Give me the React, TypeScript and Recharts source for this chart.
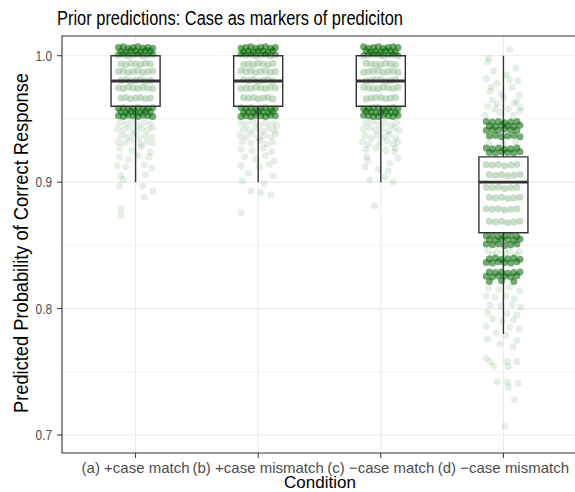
import { ComposedChart, Scatter, XAxis, YAxis, CartesianGrid, ReferenceArea } from "recharts";

type Pt = [number, number]; // [horizontal jitter, predicted probability]

const conditions = ["(a) +case match", "(b) +case mismatch", "(c) \u2212case match", "(d) \u2212case mismatch"];
const yTicks = [0.7, 0.8, 0.9, 1.0];
const yMinor = [0.75, 0.85, 0.95];

// boxplot summaries per condition
const boxLow = [0.96, 0.96, 0.96, 0.86];
const boxMid = [0.98, 0.98, 0.98, 0.9];
const boxHigh = [1.0, 1.0, 1.0, 0.92];
const whiskerLow = [0.9, 0.9, 0.9, 0.78];
const whiskerHigh = [1.0, 1.0, 1.0, 1.0];

// jittered draws, dense cores
const aCore: Pt[] = [
  [-0.14, 1.0065], [-0.1, 1.007], [-0.06, 1.006], [-0.02, 1.0065], [0.02, 1.007], [0.06, 1.006], [0.1, 1.0065], [0.14, 1.006],
  [-0.12, 1.0035], [-0.08, 1.003], [-0.04, 1.004], [0.0, 1.0035], [0.04, 1.003], [0.08, 1.004], [0.12, 1.0035],
  [-0.14, 1.0005], [-0.1, 1.001], [-0.06, 1.0], [-0.02, 1.0005], [0.02, 1.001], [0.06, 1.0], [0.1, 1.0005], [0.14, 1.001],
  [-0.12, 0.9935], [-0.08, 0.993], [-0.04, 0.994], [0.0, 0.9935], [0.04, 0.993], [0.08, 0.994], [0.12, 0.9935],
  [-0.14, 0.9875], [-0.1, 0.988], [-0.06, 0.987], [-0.02, 0.9875], [0.02, 0.988], [0.06, 0.987], [0.1, 0.9875], [0.14, 0.988],
  [-0.12, 0.9805], [-0.08, 0.981], [-0.04, 0.98], [0.0, 0.9805], [0.04, 0.981], [0.08, 0.98], [0.12, 0.9805],
  [-0.14, 0.9745], [-0.1, 0.974], [-0.06, 0.975], [-0.02, 0.9745], [0.02, 0.974], [0.06, 0.975], [0.1, 0.9745], [0.14, 0.974],
  [-0.12, 0.9665], [-0.08, 0.967], [-0.04, 0.966], [0.0, 0.9665], [0.04, 0.967], [0.08, 0.966], [0.12, 0.9665],
  [-0.14, 0.9585], [-0.1, 0.959], [-0.06, 0.958], [-0.02, 0.9585], [0.02, 0.959], [0.06, 0.958], [0.1, 0.9585], [0.14, 0.959],
  [-0.12, 0.9555], [-0.08, 0.955], [-0.04, 0.956], [0.0, 0.9555], [0.04, 0.955], [0.08, 0.956], [0.12, 0.9555],
  [-0.14, 0.9525], [-0.1, 0.952], [-0.06, 0.953], [-0.02, 0.9525], [0.02, 0.952], [0.06, 0.953], [0.1, 0.9525], [0.14, 0.952],
];
const bCore: Pt[] = [
  [-0.14, 1.006], [-0.1, 1.0065], [-0.06, 1.007], [-0.02, 1.006], [0.02, 1.0065], [0.06, 1.007], [0.1, 1.006], [0.14, 1.0065],
  [-0.12, 1.003], [-0.08, 1.0035], [-0.04, 1.003], [0.0, 1.004], [0.04, 1.0035], [0.08, 1.003], [0.12, 1.004],
  [-0.14, 1.001], [-0.1, 1.0005], [-0.06, 1.001], [-0.02, 1.0], [0.02, 1.0005], [0.06, 1.001], [0.1, 1.0], [0.14, 1.0005],
  [-0.12, 0.993], [-0.08, 0.9935], [-0.04, 0.993], [0.0, 0.994], [0.04, 0.9935], [0.08, 0.993], [0.12, 0.994],
  [-0.14, 0.988], [-0.1, 0.9875], [-0.06, 0.988], [-0.02, 0.987], [0.02, 0.9875], [0.06, 0.988], [0.1, 0.987], [0.14, 0.9875],
  [-0.12, 0.981], [-0.08, 0.9805], [-0.04, 0.981], [0.0, 0.98], [0.04, 0.9805], [0.08, 0.981], [0.12, 0.98],
  [-0.14, 0.974], [-0.1, 0.9745], [-0.06, 0.974], [-0.02, 0.975], [0.02, 0.9745], [0.06, 0.974], [0.1, 0.975], [0.14, 0.9745],
  [-0.12, 0.967], [-0.08, 0.9665], [-0.04, 0.967], [0.0, 0.966], [0.04, 0.9665], [0.08, 0.967], [0.12, 0.966],
  [-0.14, 0.959], [-0.1, 0.9585], [-0.06, 0.959], [-0.02, 0.958], [0.02, 0.9585], [0.06, 0.959], [0.1, 0.958], [0.14, 0.9585],
  [-0.12, 0.955], [-0.08, 0.9555], [-0.04, 0.955], [0.0, 0.956], [0.04, 0.9555], [0.08, 0.955], [0.12, 0.956],
  [-0.14, 0.952], [-0.1, 0.9525], [-0.06, 0.952], [-0.02, 0.953], [0.02, 0.9525], [0.06, 0.952], [0.1, 0.953], [0.14, 0.9525],
];
const cCore: Pt[] = [
  [-0.14, 1.007], [-0.1, 1.006], [-0.06, 1.0065], [-0.02, 1.007], [0.02, 1.006], [0.06, 1.0065], [0.1, 1.007], [0.14, 1.0065],
  [-0.12, 1.004], [-0.08, 1.003], [-0.04, 1.0035], [0.0, 1.003], [0.04, 1.004], [0.08, 1.0035], [0.12, 1.003],
  [-0.14, 1.0], [-0.1, 1.0005], [-0.06, 1.001], [-0.02, 1.001], [0.02, 1.0], [0.06, 1.0005], [0.1, 1.001], [0.14, 1.0],
  [-0.12, 0.994], [-0.08, 0.9935], [-0.04, 0.993], [0.0, 0.993], [0.04, 0.994], [0.08, 0.9935], [0.12, 0.993],
  [-0.14, 0.987], [-0.1, 0.9875], [-0.06, 0.988], [-0.02, 0.988], [0.02, 0.987], [0.06, 0.9875], [0.1, 0.988], [0.14, 0.987],
  [-0.12, 0.98], [-0.08, 0.9805], [-0.04, 0.981], [0.0, 0.981], [0.04, 0.98], [0.08, 0.9805], [0.12, 0.981],
  [-0.14, 0.975], [-0.1, 0.9745], [-0.06, 0.974], [-0.02, 0.974], [0.02, 0.975], [0.06, 0.9745], [0.1, 0.974], [0.14, 0.975],
  [-0.12, 0.966], [-0.08, 0.9665], [-0.04, 0.967], [0.0, 0.967], [0.04, 0.966], [0.08, 0.9665], [0.12, 0.967],
  [-0.14, 0.958], [-0.1, 0.9585], [-0.06, 0.959], [-0.02, 0.959], [0.02, 0.958], [0.06, 0.9585], [0.1, 0.959], [0.14, 0.958],
  [-0.12, 0.956], [-0.08, 0.9555], [-0.04, 0.955], [0.0, 0.955], [0.04, 0.956], [0.08, 0.9555], [0.12, 0.955],
  [-0.14, 0.953], [-0.1, 0.9525], [-0.06, 0.952], [-0.02, 0.952], [0.02, 0.953], [0.06, 0.9525], [0.1, 0.952], [0.14, 0.953],
];
const dCore: Pt[] = [
  [-0.14, 0.948], [-0.09, 0.9475], [-0.04, 0.948], [0.01, 0.947], [0.06, 0.9475], [0.11, 0.948],
  [-0.115, 0.9445], [-0.065, 0.944], [-0.015, 0.945], [0.035, 0.9445], [0.085, 0.944], [0.135, 0.945],
  [-0.14, 0.941], [-0.09, 0.9415], [-0.04, 0.941], [0.01, 0.942], [0.06, 0.9415], [0.11, 0.941],
  [-0.115, 0.9365], [-0.065, 0.937], [-0.015, 0.936], [0.035, 0.9365], [0.085, 0.937], [0.135, 0.936],
  [-0.14, 0.927], [-0.09, 0.9265], [-0.04, 0.927], [0.01, 0.926], [0.06, 0.9265], [0.11, 0.927],
  [-0.115, 0.9235], [-0.065, 0.923], [-0.015, 0.924], [0.035, 0.9235], [0.085, 0.923], [0.135, 0.924],
  [-0.14, 0.914], [-0.09, 0.9135], [-0.04, 0.914], [0.01, 0.913], [0.06, 0.9135], [0.11, 0.914],
  [-0.115, 0.906], [-0.065, 0.9055], [-0.015, 0.906], [0.035, 0.905], [0.085, 0.9055], [0.135, 0.906],
  [-0.14, 0.896], [-0.09, 0.8955], [-0.04, 0.896], [0.01, 0.895], [0.06, 0.8955], [0.11, 0.896],
  [-0.115, 0.888], [-0.065, 0.8875], [-0.015, 0.888], [0.035, 0.887], [0.085, 0.8875], [0.135, 0.888],
  [-0.14, 0.879], [-0.09, 0.8785], [-0.04, 0.879], [0.01, 0.878], [0.06, 0.8785], [0.11, 0.879],
  [-0.115, 0.869], [-0.065, 0.8685], [-0.015, 0.869], [0.035, 0.868], [0.085, 0.8685], [0.135, 0.869],
  [-0.14, 0.8575], [-0.09, 0.858], [-0.04, 0.857], [0.01, 0.8575], [0.06, 0.858], [0.11, 0.857],
  [-0.115, 0.8545], [-0.065, 0.854], [-0.015, 0.855], [0.035, 0.8545], [0.085, 0.854], [0.135, 0.855],
  [-0.14, 0.851], [-0.09, 0.8505], [-0.04, 0.851], [0.01, 0.85], [0.06, 0.8505], [0.11, 0.851],
  [-0.115, 0.8395], [-0.065, 0.84], [-0.015, 0.839], [0.035, 0.8395], [0.085, 0.84], [0.135, 0.839],
  [-0.14, 0.8365], [-0.09, 0.836], [-0.04, 0.837], [0.01, 0.8365], [0.06, 0.836], [0.11, 0.837],
  [-0.115, 0.829], [-0.065, 0.8285], [-0.015, 0.829], [0.035, 0.828], [0.085, 0.8285], [0.135, 0.829],
  [-0.14, 0.8255], [-0.09, 0.825], [-0.04, 0.826], [0.01, 0.8255], [0.06, 0.825], [0.11, 0.826],
  [-0.115, 0.8215], [-0.015, 0.822], [0.085, 0.8215],
];

// jittered draws, thinner tails
const aTail: Pt[] = [
  [-0.13, 0.947], [-0.08, 0.946], [-0.03, 0.948], [0.02, 0.945], [0.07, 0.947], [0.12, 0.946],
  [-0.15, 0.942], [-0.1, 0.941], [-0.05, 0.943], [0.0, 0.94], [0.05, 0.942], [0.1, 0.941], [0.14, 0.943],
  [-0.12, 0.937], [-0.07, 0.936], [-0.02, 0.938], [0.03, 0.935], [0.08, 0.937], [0.13, 0.936],
  [-0.14, 0.932], [-0.09, 0.931], [-0.04, 0.933], [0.04, 0.93], [0.09, 0.932], [0.14, 0.931],
  [-0.13, 0.927], [-0.03, 0.925], [0.05, 0.928], [0.12, 0.924],
  [-0.13, 0.92], [-0.06, 0.918], [0.02, 0.921], [0.11, 0.92],
  [-0.15, 0.913], [-0.08, 0.912], [0.07, 0.914], [0.13, 0.911],
  [-0.12, 0.905], [0.08, 0.906], [-0.1, 0.902], [-0.13, 0.897], [0.06, 0.897], [0.14, 0.893], [0.07, 0.888],
  [-0.12, 0.879], [-0.12, 0.874],
];
const bTail: Pt[] = [
  [-0.14, 0.947], [-0.09, 0.946], [-0.04, 0.948], [0.01, 0.945], [0.06, 0.947], [0.11, 0.946], [0.15, 0.945],
  [-0.12, 0.942], [-0.07, 0.941], [-0.02, 0.943], [0.03, 0.94], [0.08, 0.942], [0.13, 0.941],
  [-0.15, 0.937], [-0.1, 0.936], [-0.05, 0.938], [0.0, 0.935], [0.05, 0.937], [0.1, 0.936], [0.14, 0.938],
  [-0.13, 0.932], [-0.06, 0.931], [0.02, 0.933], [0.07, 0.93], [0.12, 0.932],
  [-0.14, 0.926], [-0.05, 0.925], [0.04, 0.927], [0.11, 0.924],
  [-0.11, 0.92], [-0.02, 0.918], [0.06, 0.921], [0.13, 0.917],
  [-0.14, 0.913], [0.01, 0.912], [0.09, 0.914],
  [-0.08, 0.907], [0.12, 0.905], [-0.13, 0.901], [0.05, 0.899], [-0.06, 0.893], [0.1, 0.89], [0.02, 0.892],
  [-0.14, 0.876],
];
const cTail: Pt[] = [
  [-0.12, 0.947], [-0.07, 0.948], [-0.02, 0.946], [0.03, 0.947], [0.08, 0.945], [0.13, 0.947],
  [-0.14, 0.942], [-0.09, 0.943], [-0.04, 0.941], [0.01, 0.942], [0.06, 0.94], [0.11, 0.943], [0.15, 0.941],
  [-0.13, 0.937], [-0.08, 0.935], [-0.03, 0.937], [0.02, 0.936], [0.07, 0.938], [0.12, 0.935],
  [-0.15, 0.932], [-0.1, 0.93], [-0.01, 0.931], [0.05, 0.933], [0.1, 0.93], [0.14, 0.932],
  [-0.12, 0.926], [-0.04, 0.927], [0.04, 0.925], [0.12, 0.927],
  [-0.115, 0.92], [-0.105, 0.917], [0.11, 0.924], [0.14, 0.919], [0.075, 0.915],
  [-0.13, 0.912], [-0.02, 0.91], [0.06, 0.909],
  [-0.09, 0.902], [0.035, 0.904], [0.1, 0.9], [-0.05, 0.881],
];
const dTail: Pt[] = [
  [0.05, 1.005], [-0.12, 0.998], [-0.13, 0.995], [0.1, 0.99], [-0.08, 0.988], [0.02, 0.985], [-0.14, 0.982],
  [0.12, 0.98], [-0.05, 0.978], [0.07, 0.975], [-0.11, 0.972], [0.13, 0.969], [0.0, 0.967], [-0.09, 0.965],
  [0.09, 0.962], [-0.13, 0.96], [0.04, 0.958], [0.13, 0.956], [-0.03, 0.955], [-0.15, 0.953], [0.08, 0.953],
  [-0.07, 0.958], [0.11, 0.964], [-0.02, 0.97], [0.05, 0.981], [-0.1, 0.975], [0.14, 0.959], [-0.05, 0.962],
  [-0.12, 0.931], [0.0, 0.931], [0.1, 0.932],
  [-0.13, 0.846], [-0.05, 0.845], [0.05, 0.846], [0.13, 0.845], [-0.09, 0.843], [0.01, 0.844], [0.1, 0.843],
  [-0.12, 0.816], [-0.04, 0.815], [0.05, 0.817], [0.13, 0.814], [-0.14, 0.81], [-0.07, 0.809], [0.02, 0.81], [0.09, 0.808],
  [-0.11, 0.803], [-0.02, 0.802], [0.07, 0.803], [0.14, 0.801], [-0.13, 0.797], [0.03, 0.796], [0.11, 0.795],
  [-0.09, 0.792], [-0.01, 0.79], [0.08, 0.791], [-0.14, 0.786], [0.05, 0.785], [0.13, 0.784], [-0.06, 0.781],
  [0.02, 0.779], [-0.13, 0.776], [0.11, 0.775], [-0.03, 0.772], [0.08, 0.77],
  [-0.14, 0.761], [-0.11, 0.758], [-0.08, 0.755], [0.03, 0.758], [0.04, 0.754], [0.11, 0.758],
  [-0.05, 0.742], [0.03, 0.742], [0.04, 0.738], [0.12, 0.741], [0.09, 0.728], [0.01, 0.707],
];

const toRows = (groups: Pt[][]) =>
  groups.flatMap((pts, i) => pts.map(([dx, y]) => ({ x: i + 1 + dx, y })));

const coreRows = toRows([aCore, bCore, cCore, dCore]);
const tailRows = toRows([aTail, bTail, cTail, dTail]);

const HALF = 0.2; // half box width, in category units
// corners, median ends and whisker ends of each box, as data points
const boxRows = conditions.map((_, i) => {
  const c = i + 1;
  return [
    { x: c - HALF, y: boxLow[i] }, { x: c + HALF, y: boxLow[i] },
    { x: c + HALF, y: boxHigh[i] }, { x: c - HALF, y: boxHigh[i] },
    { x: c - HALF, y: boxMid[i] }, { x: c + HALF, y: boxMid[i] },
    { x: c, y: whiskerLow[i] }, { x: c, y: boxLow[i] },
    { x: c, y: boxHigh[i] }, { x: c, y: whiskerHigh[i] },
  ];
});

const Y_DOMAIN: [number, number] = [0.6858, 1.0156];
const GREEN = "#006400";
const FONT = "'Liberation Sans', Arial, Helvetica, sans-serif";
const INK = "#333333";

const dot = (opacity: number) => (p: any) =>
  p.cx == null ? <g /> : <circle cx={p.cx} cy={p.cy} r={3.5} fill={GREEN} fillOpacity={opacity} />;

const noDot = () => <g />;

// draws a boxplot from the pixel points that Scatter hands to its line
const drawBox = (props: any) => {
  const p = props.points as { x: number; y: number }[];
  const box = p.slice(0, 4).map((q) => `${q.x},${q.y}`).join(" ");
  return (
    <g>
      <line x1={p[6].x} y1={p[6].y} x2={p[7].x} y2={p[7].y} stroke={INK} strokeWidth={1.4} />
      <line x1={p[8].x} y1={p[8].y} x2={p[9].x} y2={p[9].y} stroke={INK} strokeWidth={1.4} />
      <polygon points={box} fill="#ffffff" fillOpacity={0.6} stroke={INK} strokeWidth={1.4} />
      <line x1={p[4].x} y1={p[4].y} x2={p[5].x} y2={p[5].y} stroke={INK} strokeWidth={2.8} />
    </g>
  );
};

const YTick = (props: any) => (
  <text
    x={props.x}
    y={props.y}
    dy="0.355em"
    textAnchor="end"
    fontSize={14}
    fontFamily={FONT}
    fill="#4D4D4D"
    textLength={16.4}
    lengthAdjust="spacingAndGlyphs"
  >
    {Number(props.payload.value).toFixed(1)}
  </text>
);

export default function App() {
  return (
    <div style={{ position: "absolute", left: 0, top: 0, width: 575, height: 492, overflow: "hidden", background: "#fff" }}>
      <ComposedChart width={580} height={492} margin={{ top: 36, right: 3, bottom: 0, left: 0 }} style={{ fontFamily: FONT }}>
        <CartesianGrid horizontalValues={yMinor} vertical={false} stroke="#EBEBEB" strokeWidth={0.6} />
        <CartesianGrid horizontalValues={yTicks} verticalValues={[1, 2, 3, 4]} stroke="#EBEBEB" strokeWidth={1.1} />
        <XAxis
          type="number"
          dataKey="x"
          domain={[0.4, 4.6]}
          ticks={[1, 2, 3, 4]}
          interval={0}
          tickFormatter={(v: number) => conditions[v - 1]}
          height={39}
          axisLine={false}
          tickSize={5}
          tickMargin={4}
          tickLine={{ stroke: INK }}
          tick={{ fontSize: 15, fill: "#4D4D4D", fontFamily: FONT }}
          allowDataOverflow
        />
        <YAxis
          type="number"
          dataKey="y"
          domain={Y_DOMAIN}
          ticks={yTicks}
          width={62}
          axisLine={false}
          tickSize={5}
          tickMargin={5}
          tickLine={{ stroke: INK }}
          tick={YTick}
          allowDataOverflow
        />
        <Scatter data={tailRows} shape={dot(0.1)} isAnimationActive={false} />
        <Scatter data={coreRows} shape={dot(0.55)} isAnimationActive={false} />
        {boxRows.map((rows, i) => (
          <Scatter key={conditions[i]} data={rows} shape={noDot} line={drawBox} isAnimationActive={false} />
        ))}
        <ReferenceArea x1={0.4} x2={4.6} y1={Y_DOMAIN[0]} y2={Y_DOMAIN[1]} fill="none" stroke={INK} strokeWidth={1.1} />
        <text x={57} y={25} fontSize={20} fill="#000" fontFamily={FONT} textLength={346} lengthAdjust="spacingAndGlyphs">
          Prior predictions: Case as markers of prediciton
        </text>
        <text
          transform="translate(28,243) rotate(-90)"
          textAnchor="middle"
          fontSize={20}
          fill="#000"
          fontFamily={FONT}
          textLength={340}
          lengthAdjust="spacingAndGlyphs"
        >
          Predicted Probability of Correct Response
        </text>
        <text x={320} y={488} textAnchor="middle" fontSize={17} fill="#000" fontFamily={FONT}>
          Condition
        </text>
      </ComposedChart>
    </div>
  );
}
